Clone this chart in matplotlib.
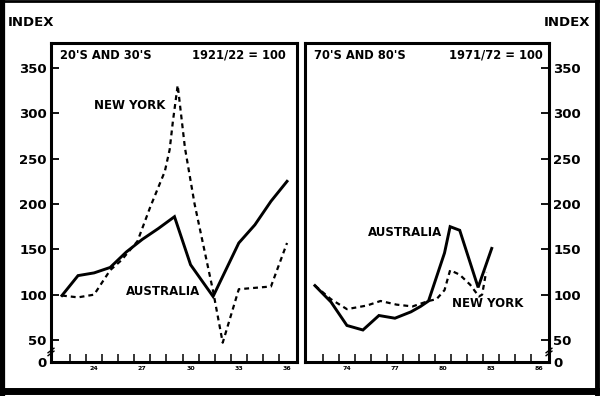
import matplotlib
matplotlib.use("Agg")
import matplotlib.pyplot as plt
from matplotlib.lines import Line2D
from matplotlib.transforms import blended_transform_factory

# ---------- Data ----------
# 20's and 30's panel (1921/22 = 100)
yr_aus_2030 = [22, 23, 24, 25, 26, 27, 28, 29, 30, 31.4, 33, 34, 35, 36]
aus_2030 = [99, 121, 124, 130, 147, 161, 173, 186, 133, 98, 157, 177, 203, 225]
yr_ny_2030 = [22, 23, 24, 25, 25.7, 26.7, 27.5, 28.4, 28.7, 28.9, 29.2,
              29.65, 30.25, 31.4, 32, 33, 35, 36]
ny_2030 = [99, 97, 100, 127, 138, 159, 197, 236, 260, 291, 331,
           262, 200, 104, 47, 106, 109, 157]

# 70's and 80's panel (1971/72 = 100)
yr_aus_7080 = [72, 73, 74, 75, 76, 77, 78, 78.6, 79.1, 80.1, 80.45, 81.05, 82.2, 83.05]
aus_7080 = [110, 92, 66, 61, 77, 74, 81, 87, 93, 146, 175, 171, 108, 151]
yr_ny_7080 = [72, 73, 74, 75.25, 76.1, 77.1, 78.1, 79.1, 79.6, 80.1, 80.45,
              81.05, 81.7, 82.25, 82.45, 82.7]
ny_7080 = [110, 95, 84, 88, 93, 89, 87, 93, 95, 105, 127, 122, 111, 98, 100, 125]

# axis ticks / labels
ytick_vals = [50, 100, 150, 200, 250, 300, 350]
xlab_2030 = [24, 27, 30, 33, 36]
xlab_7080 = [74, 77, 80, 83, 86]

# ---------- Layout ----------
YMIN, YMAX = 25.7, 377.6
plt.rcParams['font.family'] = ['DejaVu Sans']
plt.rcParams['font.weight'] = 'bold'

fig = plt.figure(figsize=(6.0, 3.96), dpi=100)
ax1 = fig.add_axes([51 / 600, 34 / 396, 246 / 600, 319 / 396])
ax2 = fig.add_axes([305 / 600, 34 / 396, 244 / 600, 319 / 396])

panels = [
    (ax1, yr_aus_2030, aus_2030, yr_ny_2030, ny_2030, xlab_2030, (21.32, 36.62),
     "20'S AND 30'S", "1921/22 = 100", 'left'),
    (ax2, yr_aus_7080, aus_7080, yr_ny_7080, ny_7080, xlab_7080, (71.38, 86.63),
     "70'S AND 80'S", "1971/72 = 100", 'right'),
]

for ax, xa, ya, xn, yn, xlabs, xlim, head_l, head_r, side in panels:
    ax.plot(xa, ya, color='black', lw=2.1, solid_joinstyle='miter')
    ax.plot(xn, yn, color='black', lw=1.6, linestyle=(0, (2.2, 1.8)))

    ax.set_xlim(*xlim)
    ax.set_ylim(YMIN, YMAX)

    for sp in ax.spines.values():
        sp.set_linewidth(2.2)

    # x: labels at mid-year, tick marks at year boundaries
    ax.set_xticks(xlabs)
    ax.set_xticklabels([str(v) for v in xlabs], fontsize=4.5, fontweight='bold')
    ax.set_xticks([v + 0.5 for v in range(xlabs[0] - 2, xlabs[-1])], minor=True)
    ax.tick_params(axis='x', which='major', length=0, pad=3)
    ax.tick_params(axis='x', which='minor', direction='in', length=6, width=1.1)

    # y: broken axis, bottom labelled 0
    ax.set_yticks([YMIN] + ytick_vals)
    ax.set_yticklabels(['0'] + [str(v) for v in ytick_vals],
                       fontsize=9.5, fontweight='bold')
    if side == 'right':
        ax.yaxis.tick_right()
        ax.tick_params(axis='y', direction='in', length=6, width=1.3, pad=3,
                       left=False, right=True, labelleft=False, labelright=True)
        bx = 1.0
    else:
        ax.tick_params(axis='y', direction='in', length=6, width=1.3, pad=3,
                       left=True, right=False)
        bx = 0.0

    # axis break marks
    trans = blended_transform_factory(ax.transAxes, ax.transData)
    for off in (-1.6, 1.6):
        ax.plot([bx - 0.012, bx + 0.012], [36.8 + off - 2.5, 36.8 + off + 2.5],
                color='black', lw=1.0, transform=trans, clip_on=False)

    ax.text(0.037, 0.962, head_l, transform=ax.transAxes, fontsize=8.3,
            fontweight='bold', ha='left', va='center')
    ax.text(0.955 if side == 'left' else 0.975, 0.962, head_r,
            transform=ax.transAxes, fontsize=8.3, fontweight='bold',
            ha='right', va='center')

# series labels
ax1.text(26.2, 309, 'NEW YORK', fontsize=8.5, fontweight='bold', ha='center', va='center')
ax1.text(28.3, 104, 'AUSTRALIA', fontsize=8.5, fontweight='bold', ha='center', va='center')
ax2.text(77.64, 169, 'AUSTRALIA', fontsize=8.5, fontweight='bold', ha='center', va='center')
ax2.text(82.82, 90, 'NEW YORK', fontsize=8.5, fontweight='bold', ha='center', va='center')

fig.text(8 / 600, 1 - 23 / 396, 'INDEX', fontsize=9.5, fontweight='bold',
         ha='left', va='center')
fig.text(590 / 600, 1 - 23 / 396, 'INDEX', fontsize=9.5, fontweight='bold',
         ha='right', va='center')

# outer frame
frame = [
    ([0.004, 0.004], [0.0, 1.0], 4.5),
    ([0.0, 1.0], [0.012, 0.012], 5.0),
    ([0.0, 1.0], [0.997, 0.997], 2.0),
    ([0.9955, 0.9955], [0.0, 1.0], 3.5),
]
for xs, ys, w in frame:
    fig.add_artist(Line2D(xs, ys, color='black', lw=w, transform=fig.transFigure))

fig.savefig('out.png', dpi=100, facecolor='white')
